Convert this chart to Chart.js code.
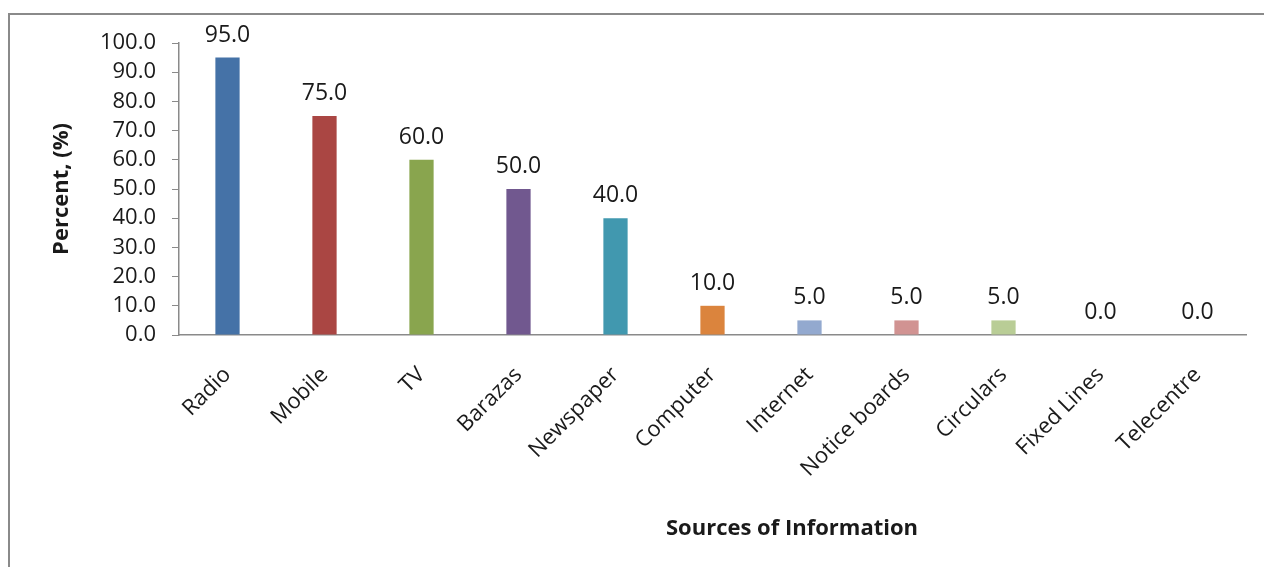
<!DOCTYPE html>
<html>
<head>
<meta charset="utf-8">
<title>Sources of Information</title>
<script src="https://cdn.jsdelivr.net/npm/chart.js@4/dist/chart.umd.min.js"></script>
<style>
  html, body { margin: 0; padding: 0; background: #fff; }
  #wrap { width: 1264px; height: 567px; position: relative; }
</style>
</head>
<body>
<div id="wrap"><canvas id="sourcesChart"></canvas></div>
<script>
  const sources = ['Radio', 'Mobile', 'TV', 'Barazas', 'Newspaper', 'Computer',
    'Internet', 'Notice boards', 'Circulars', 'Fixed Lines', 'Telecentre'];
  const percents = [95, 75, 60, 50, 40, 10, 5, 5, 5, 0, 0];
  const barColors = ['#4572A7', '#AA4643', '#89A54E', '#71588F', '#4198AF', '#DB843D',
    '#93A9CF', '#D19392', '#B9CD96', '#A99BBD', '#91C3D5'];
  const yTicks = [0, 10, 20, 30, 40, 50, 60, 70, 80, 90, 100];

  const FONT = '"Open Sans", "Liberation Sans", sans-serif';

  // outer frame of the chart box
  const framePlugin = {
    id: 'frame',
    beforeDraw(chart) {
      const c = chart.ctx;
      c.save();
      c.fillStyle = '#fff';
      c.fillRect(0, 0, chart.width, chart.height);
      c.strokeStyle = '#8a8a8a';
      c.lineWidth = 2;
      c.strokeRect(9, 14, chart.width + 20, chart.height + 20);
      c.restore();
    }
  };

  // value above every bar, plus the two axis titles
  const labelPlugin = {
    id: 'labels',
    afterDatasetsDraw(chart) {
      const c = chart.ctx;
      const meta = chart.getDatasetMeta(0);
      c.save();
      c.fillStyle = '#1a1a1a';
      c.font = '23px ' + FONT;
      c.textAlign = 'center';
      c.textBaseline = 'alphabetic';
      meta.data.forEach((bar, i) => {
        c.fillText(percents[i].toFixed(1), bar.x, bar.y - 16);
      });

      const area = chart.chartArea;
      c.font = 'bold 22px ' + FONT;
      c.textBaseline = 'middle';
      c.fillText('Sources of Information', 792, 529);

      c.translate(62, (area.top + area.bottom) / 2);
      c.rotate(-Math.PI / 2);
      c.fillText('Percent, (%)', 0, 0);
      c.restore();
    }
  };

  const ctx = document.getElementById('sourcesChart').getContext('2d');

  new Chart(ctx, {
    type: 'bar',
    data: {
      labels: sources,
      datasets: [{
        data: percents,
        backgroundColor: barColors,
        borderWidth: 0,
        barPercentage: 0.25,
        categoryPercentage: 1
      }]
    },
    options: {
      responsive: true,
      maintainAspectRatio: false,
      animation: false,
      layout: {
        padding: { top: 43, right: 18, bottom: 0, left: 0 }
      },
      plugins: {
        legend: { display: false },
        tooltip: { enabled: false }
      },
      scales: {
        x: {
          grid: { display: false, drawTicks: false },
          border: { display: true, color: '#8a8a8a', width: 1.5 },
          ticks: {
            color: '#1a1a1a',
            font: { family: FONT, size: 22 },
            minRotation: 45,
            maxRotation: 45,
            autoSkip: false,
            padding: 27
          },
          afterFit(scale) { scale.height = 232; }
        },
        y: {
          min: 0,
          max: 100,
          afterBuildTicks(scale) {
            scale.ticks = yTicks.map(v => ({ value: v }));
          },
          grid: {
            drawOnChartArea: false,
            drawTicks: true,
            tickLength: 7,
            color: '#8a8a8a'
          },
          border: { display: true, color: '#8a8a8a', width: 1.5 },
          ticks: {
            color: '#1a1a1a',
            font: { family: FONT, size: 22 },
            padding: 16,
            autoSkip: false,
            callback: v => v.toFixed(1)
          },
          afterFit(scale) { scale.width = 179; }
        }
      }
    },
    plugins: [framePlugin, labelPlugin]
  });
</script>
</body>
</html>
